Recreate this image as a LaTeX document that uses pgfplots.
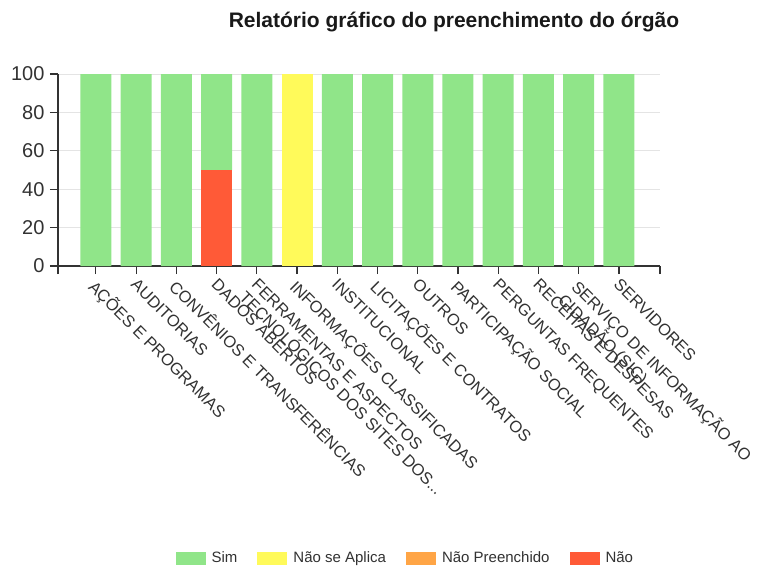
\documentclass[border=0pt]{standalone}
\usepackage{pgfplots}
\pgfplotsset{compat=1.18}
\usepackage{fontspec}
\setmainfont{Liberation Sans}
\definecolor{csim}{RGB}{144,229,137}
\definecolor{cnsa}{RGB}{255,250,90}
\definecolor{cnp}{RGB}{255,165,70}
\definecolor{cnao}{RGB}{255,90,55}
\definecolor{axisgray}{RGB}{50,50,50}
\definecolor{gridgray}{RGB}{228,228,228}
\newcommand{\tdots}{.\kern0pt.\kern0pt.}
\begin{document}
\begin{tikzpicture}[x=1pt,y=1pt]
\path[use as bounding box] (-58,-300) rectangle (704,266);
\begin{axis}[
  at={(0,0)}, anchor=south west,
  scale only axis, width=602pt, height=192pt,
  ybar stacked, bar width=31pt,
  xmin=-0.94, xmax=14.02, ymin=0, ymax=100,
  axis x line*=bottom, axis y line*=left,
  axis line style={axisgray, line width=1.3pt},
  tick style={axisgray, line width=1.1pt},
  tick align=outside, major tick length=8pt,
  xtick={0,...,13},
  xticklabels={{AÇÕES E PROGRAMAS},{AUDITORIAS},{CONVÊNIOS E TRANSFERÊNCIAS},{DADOS ABERTOS},
    {FERRAMENTAS E ASPECTOS\\TECNOLÓGICOS DOS SITES DOS\tdots},{INFORMAÇÕES CLASSIFICADAS},
    {INSTITUCIONAL},{LICITAÇÕES E CONTRATOS},{OUTROS},{PARTICIPAÇÃO SOCIAL},
    {PERGUNTAS FREQUENTES},{RECEITAS E DESPESAS},{SERVIÇO DE INFORMAÇÃO AO\\CIDADÃO (SIC)},{SERVIDORES}},
  extra x ticks={-0.94,14.02}, extra x tick labels={},
  extra x tick style={grid=none},
  ytick={0,20,...,100},
  ymajorgrids, grid style={gridgray, line width=0.8pt},
  xticklabel style={rotate=-45, anchor=north west, align=left, inner sep=1pt, xshift=3pt,
    font=\fontsize{16.5}{17.5}\selectfont, text=axisgray},
  yticklabel style={font=\fontsize{20}{24}\selectfont, text=axisgray, xshift=-2pt},
  /pgf/number format/assume math mode=true,
  legend style={at={(0.577,-1.521)}, anchor=center, legend columns=4, draw=none,
    font=\fontsize{15}{18}\selectfont, text=axisgray,
    /tikz/every odd column/.append style={column sep=4pt},
    /tikz/every even column/.append style={column sep=18pt}},
  legend image code/.code={\fill[#1] (0pt,-6.5pt) rectangle (30pt,6.5pt);},
]
\addlegendimage{fill=csim, draw=none}
\addlegendimage{fill=cnsa, draw=none}
\addlegendimage{fill=cnp, draw=none}
\addlegendimage{fill=cnao, draw=none}
\legend{Sim, Não se Aplica, Não Preenchido, Não}
% stacked from the bottom: Não, Não Preenchido, Não se Aplica, Sim
\addplot[fill=cnao, draw=none] coordinates {(0,0) (1,0) (2,0) (3,50) (4,0) (5,0) (6,0) (7,0) (8,0) (9,0) (10,0) (11,0) (12,0) (13,0)};
\addplot[fill=cnp, draw=none] coordinates {(0,0) (1,0) (2,0) (3,0) (4,0) (5,0) (6,0) (7,0) (8,0) (9,0) (10,0) (11,0) (12,0) (13,0)};
\addplot[fill=cnsa, draw=none] coordinates {(0,0) (1,0) (2,0) (3,0) (4,0) (5,100) (6,0) (7,0) (8,0) (9,0) (10,0) (11,0) (12,0) (13,0)};
\addplot[fill=csim, draw=none] coordinates {(0,100) (1,100) (2,100) (3,50) (4,100) (5,0) (6,100) (7,100) (8,100) (9,100) (10,100) (11,100) (12,100) (13,100)};
\end{axis}
\node[font=\bfseries\fontsize{21}{25}\selectfont, text=black!90] at (396,244) {Relatório gráfico do preenchimento do órgão};
\end{tikzpicture}
\end{document}
